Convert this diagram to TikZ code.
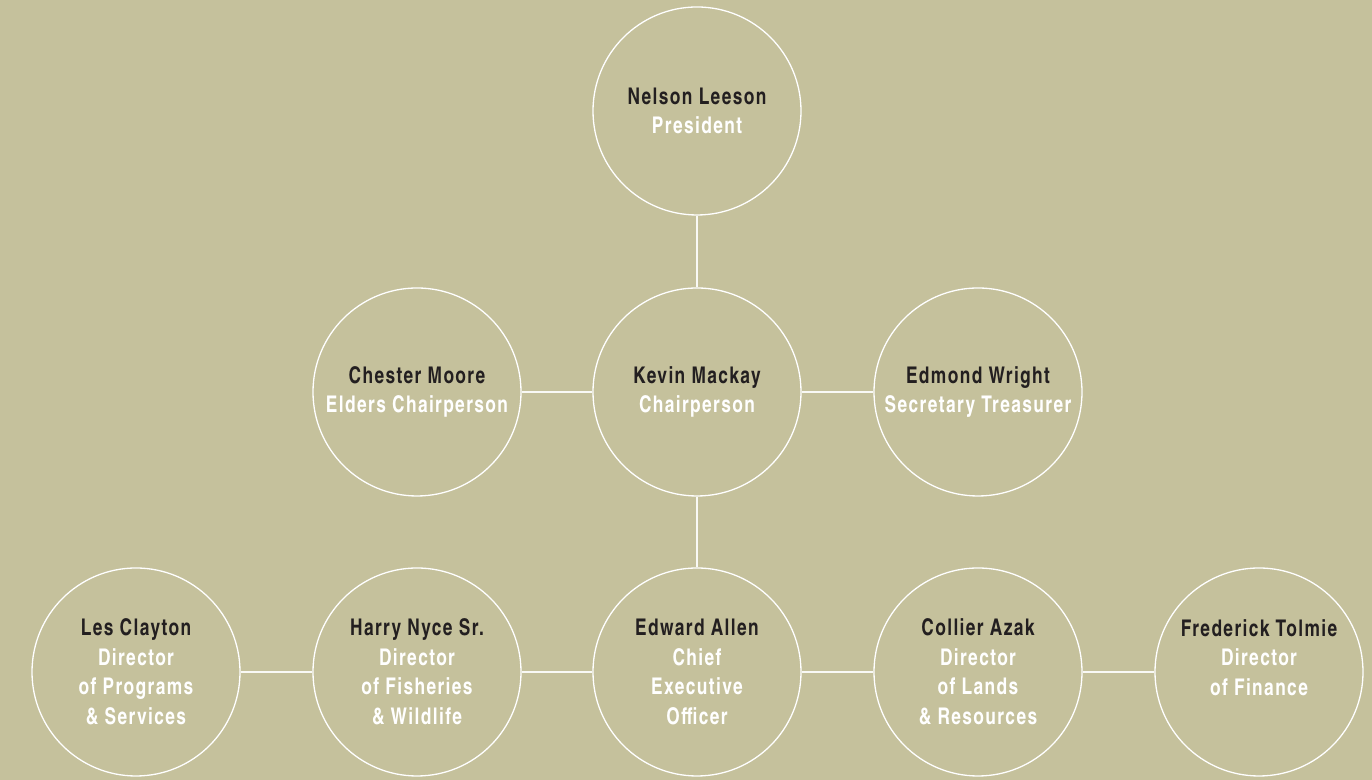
\documentclass[tikz,border=0pt]{standalone}
\usepackage{fontspec}
\setmainfont{texgyreheroscn}[Extension=.otf, UprightFont=*-regular, BoldFont=*-bold,
    FakeStretch=0.92, LetterSpace=6]
\usetikzlibrary{positioning}
\definecolor{bgkhaki}{HTML}{C5C19C}
\definecolor{namedark}{HTML}{231F20}

\begin{document}
\begin{tikzpicture}[x=0.5pt, y=0.5pt,
    person/.style={draw=white, line width=0.65pt, circle, minimum size=104pt, inner sep=0pt,
        align=center, text=white, font=\fontsize{11.5}{14.75}\selectfont\bfseries},
    link/.style={draw=white!90!bgkhaki, line width=0.65pt}]
    % Background
    \fill[bgkhaki] (0,0) rectangle (1372,780);
    \useasboundingbox (0,0) rectangle (1372,780);

    % Top: President
    \node[person] (nelson) at (697,669) {\textcolor{namedark}{Nelson Leeson}\\ President};

    % Middle row
    \node[person] (kevin) at (697,388) {\textcolor{namedark}{Kevin Mackay}\\ Chairperson};
    \node[person] (chester) at (417,388) {\textcolor{namedark}{Chester Moore}\\ Elders Chairperson};
    \node[person] (edmond) at (978,388) {\textcolor{namedark}{Edmond Wright}\\ Secretary Treasurer};

    % Bottom row
    \node[person] (edward) at (697,108) {\textcolor{namedark}{Edward Allen}\\ Chief\\ Executive\\ Officer};
    \node[person] (harry) at (417,108) {\textcolor{namedark}{Harry Nyce Sr.}\\ Director\\ of Fisheries\\ \& Wildlife};
    \node[person] (les) at (136,108) {\textcolor{namedark}{Les Clayton}\\ Director\\ of Programs\\ \& Services};
    \node[person] (collier) at (978,108) {\textcolor{namedark}{Collier Azak}\\ Director\\ of Lands\\ \& Resources};
    \node[person] (frederick) at (1259,108) {\textcolor{namedark}{Frederick Tolmie}\\ Director\\ of Finance\\ \mbox{}};

    % Connectors
    \draw[link] (nelson) -- (kevin);
    \draw[link] (chester) -- (kevin);
    \draw[link] (kevin) -- (edmond);
    \draw[link] (kevin) -- (edward);
    \draw[link] (les) -- (harry);
    \draw[link] (harry) -- (edward);
    \draw[link] (edward) -- (collier);
    \draw[link] (collier) -- (frederick);
\end{tikzpicture}
\end{document}
